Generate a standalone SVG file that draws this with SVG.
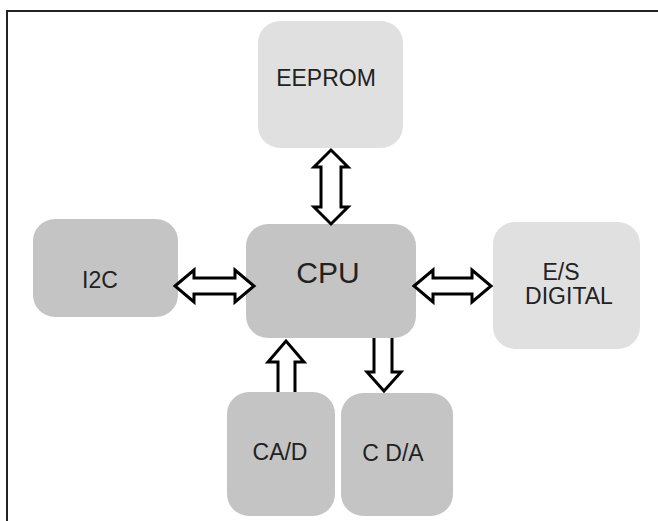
<svg xmlns="http://www.w3.org/2000/svg" width="658" height="521" viewBox="0 0 658 521">
  <style>
    .light { fill: #e0e0e0; }
    .dark { fill: #c4c4c4; }
    .lbl { font-family: "Liberation Sans", Arial, sans-serif; fill: #222; text-anchor: middle; font-size: 23px; }
    .arrow { fill: #fff; stroke: #000; stroke-width: 3; stroke-linejoin: miter; }
  </style>
  <rect width="658" height="521" fill="#fff"/>
  <!-- frame -->
  <path d="M7,521 L7,11 L658,11" fill="none" stroke="#222" stroke-width="2"/>

  <g id="eeprom">
    <rect class="light" x="258" y="21" width="145" height="127" rx="22"/>
    <text class="lbl" x="326" y="86">EEPROM</text>
  </g>
  <g id="cpu">
    <rect class="dark" x="246" y="224" width="170" height="114" rx="22"/>
    <text class="lbl" x="328" y="283" style="font-size:30px">CPU</text>
  </g>
  <g id="i2c">
    <rect class="dark" x="33" y="219" width="145" height="98" rx="22"/>
    <text class="lbl" x="100" y="288">I2C</text>
  </g>
  <g id="es-digital">
    <rect class="light" x="493" y="222" width="147" height="127" rx="22"/>
    <text class="lbl" x="561" y="280">E/S</text>
    <text class="lbl" x="569" y="304">DIGITAL</text>
  </g>
  <g id="cad">
    <rect class="dark" x="227" y="392" width="108" height="124" rx="22"/>
    <text class="lbl" x="280" y="460">CA/D</text>
  </g>
  <g id="cda">
    <rect class="dark" x="341" y="393" width="112" height="123" rx="22"/>
    <text class="lbl" x="393" y="461">C D/A</text>
  </g>

  <g id="connectors">
    <!-- EEPROM <-> CPU -->
    <path class="arrow" d="M331,150 L348,167 L341,167 L341,207 L348,207 L331,224 L314,207 L321,207 L321,167 L314,167 Z"/>
    <!-- I2C <-> CPU -->
    <path class="arrow" d="M175,286 L194,270 L194,278 L235,278 L235,270 L254,286 L235,302 L235,294 L194,294 L194,302 Z"/>
    <!-- CPU <-> E/S DIGITAL -->
    <path class="arrow" d="M414,286 L433,270 L433,278 L472,278 L472,270 L491,286 L472,302 L472,294 L433,294 L433,302 Z"/>
    <!-- CA/D -> CPU -->
    <path class="arrow" d="M278,392 L278,362 L268,362 L286,341 L304,362 L295,362 L295,392"/>
    <!-- CPU -> C D/A -->
    <path class="arrow" d="M374,338 L374,372 L367,372 L384,391 L401,372 L392,372 L392,338"/>
  </g>
</svg>
